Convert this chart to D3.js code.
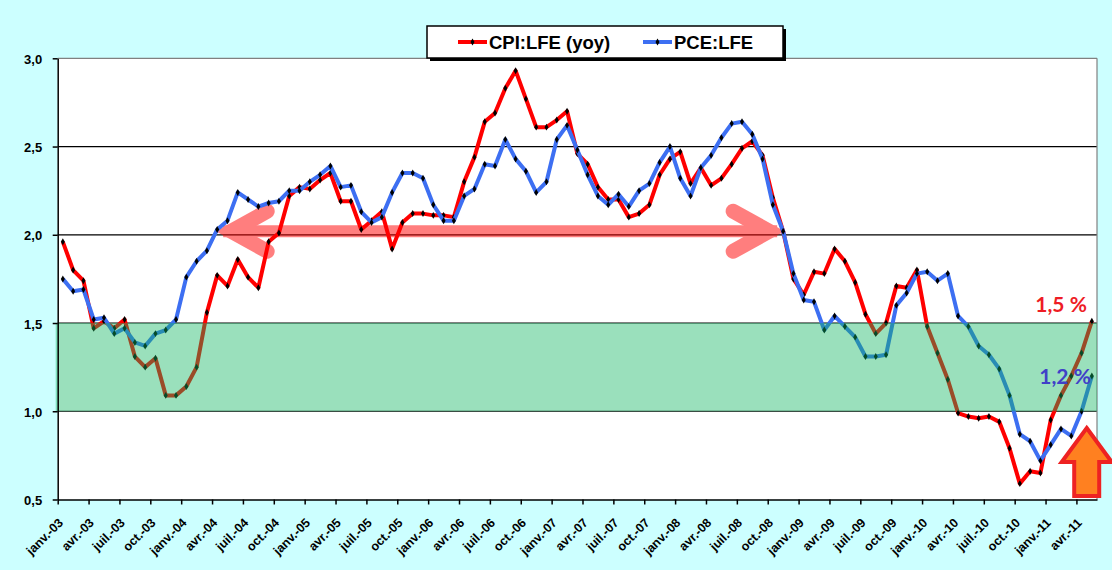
<!DOCTYPE html>
<html>
<head>
<meta charset="utf-8">
<script src="https://cdn.jsdelivr.net/npm/d3@7"></script>
<style>
  body { margin: 0; background: #ccffff; }
  svg { display: block; font-family: "Liberation Sans", Arial, sans-serif; }
</style>
</head>
<body>
<svg id="chart" width="1112" height="570"></svg>
<script>
// monthly, janv.-03 .. mai-11
var categories = d3.utcMonth.range(new Date(Date.UTC(2003, 0, 1)), new Date(Date.UTC(2011, 5, 1)));

var cpiLfe = [1.96,1.80,1.74,1.47,1.51,1.47,1.52,1.31,1.25,1.30,
              1.09,1.09,1.14,1.25,1.56,1.77,1.71,1.86,1.76,1.70,
              1.96,2.01,2.22,2.27,2.26,2.31,2.35,2.19,2.19,2.03,
              2.08,2.13,1.92,2.07,2.12,2.12,2.11,2.11,2.10,2.30,
              2.44,2.64,2.69,2.83,2.93,2.77,2.61,2.61,2.65,2.70,
              2.46,2.40,2.27,2.20,2.20,2.10,2.12,2.17,2.34,2.43,
              2.47,2.29,2.38,2.28,2.32,2.40,2.49,2.53,2.45,2.21,
              2.02,1.75,1.66,1.79,1.78,1.92,1.85,1.73,1.55,1.44,
              1.50,1.71,1.70,1.80,1.48,1.33,1.18,0.99,0.97,0.96,
              0.97,0.94,0.79,0.59,0.66,0.65,0.95,1.09,1.20,1.33,1.51];

var pceLfe = [1.75,1.68,1.69,1.52,1.53,1.44,1.47,1.39,1.37,1.44,
              1.46,1.52,1.76,1.85,1.91,2.03,2.08,2.24,2.20,2.16,
              2.18,2.19,2.25,2.25,2.30,2.34,2.39,2.27,2.28,2.13,
              2.07,2.10,2.24,2.35,2.35,2.32,2.17,2.08,2.08,2.22,
              2.26,2.40,2.39,2.54,2.43,2.36,2.24,2.30,2.54,2.62,
              2.48,2.34,2.22,2.17,2.23,2.16,2.25,2.29,2.41,2.50,
              2.32,2.22,2.38,2.45,2.55,2.63,2.64,2.57,2.43,2.17,
              2.02,1.78,1.63,1.62,1.46,1.54,1.48,1.42,1.31,1.31,
              1.32,1.60,1.67,1.78,1.79,1.74,1.78,1.54,1.48,1.37,
              1.32,1.24,1.09,0.87,0.83,0.72,0.81,0.90,0.86,1.00,1.20];

var seriesNames = ["CPI:LFE (yoy)", "PCE:LFE"];
var yTicks = [0.5, 1.0, 1.5, 2.0, 2.5, 3.0];
var tickLabels = ["janv.-03","avr.-03","juil.-03","oct.-03","janv.-04","avr.-04","juil.-04","oct.-04",
                  "janv.-05","avr.-05","juil.-05","oct.-05","janv.-06","avr.-06","juil.-06","oct.-06",
                  "janv.-07","avr.-07","juil.-07","oct.-07","janv.-08","avr.-08","juil.-08","oct.-08",
                  "janv.-09","avr.-09","juil.-09","oct.-09","janv.-10","avr.-10","juil.-10","oct.-10",
                  "janv.-11","avr.-11"];
var targetBand = [1.0, 1.5];
var plateau = [15, 70, 2.02];       // from month, to month, level
var endLabels = ["1,5 %", "1,2 %"];
var upArrow = [100, 0.52, 0.905];   // month boundary, from, to

var L = 57.7, R = 1097, T = 58.3, B = 499.5;
var n = categories.length;
var svg = d3.select("#chart");

var x = d3.scaleBand().domain(d3.range(n)).range([L, R]);
var xl = d3.scaleLinear().domain([0, n]).range([L, R]);
var cx = i => x(i) + x.bandwidth() / 2;
var y = d3.scaleLinear().domain([0.5, 3.0]).range([B, T]);

var fr = d3.formatLocale({decimal: ",", thousands: " ", grouping: [3], currency: ["", " €"]});
var fmt = fr.format(".1f");

// plot area
svg.append("rect").attr("x", L).attr("y", T).attr("width", R - L).attr("height", B - T)
    .attr("fill", "#fff");
svg.append("g").selectAll("line").data(yTicks.filter(v => v > 0.5 && v < 3))
    .join("line")
    .attr("x1", L).attr("x2", R).attr("y1", d => y(d)).attr("y2", d => y(d))
    .attr("stroke", "#000").attr("stroke-width", 1.2);
svg.append("line").attr("x1", L).attr("x2", R).attr("y1", T).attr("y2", T)
    .attr("stroke", "#808080").attr("stroke-width", 1.2);
svg.append("line").attr("x1", R).attr("x2", R).attr("y1", T).attr("y2", B)
    .attr("stroke", "#808080").attr("stroke-width", 1.2);

// pink double arrow
var ay = y(plateau[2]), ax1 = cx(plateau[0]), ax2 = cx(plateau[1]);
var pink = svg.append("g").attr("opacity", 0.5).attr("fill", "none").attr("stroke", "#ff0000");
pink.append("line").attr("x1", ax1 + 6).attr("x2", ax2 - 6).attr("y1", ay).attr("y2", ay)
    .attr("stroke-width", 12);
[[ax1, 1], [ax2, -1]].forEach(function (h) {
    var t = h[0], s = h[1];
    pink.append("path")
        .attr("d", d3.line()([[t + s * 50, ay - 20], [t + s * 14, ay], [t + s * 50, ay + 20]]))
        .attr("stroke-width", 15).attr("stroke-linecap", "round").attr("stroke-linejoin", "miter")
        .attr("stroke-miterlimit", 10);
});

// series
var series = [
    {name: seriesNames[0], values: cpiLfe, color: "#ff0000"},
    {name: seriesNames[1], values: pceLfe, color: "#3d6ff2"}
];
var lineMaker = d3.line().x((d, i) => cx(i)).y(d => y(d));
var diamond = d3.symbol().type(d3.symbolDiamond).size(14);

series.forEach(function (s) {
    var g = svg.append("g");
    g.append("path").attr("d", lineMaker(s.values))
        .attr("fill", "none").attr("stroke", s.color).attr("stroke-width", 4)
        .attr("stroke-linejoin", "round");
    g.selectAll("path.m").data(s.values).join("path").attr("class", "m")
        .attr("d", diamond)
        .attr("transform", (d, i) => "translate(" + cx(i) + "," + y(d) + ")")
        .attr("fill", "#000");
});

// target band
svg.append("rect")
    .attr("x", L - 2).attr("y", y(targetBand[1]))
    .attr("width", R - L + 2).attr("height", y(targetBand[0]) - y(targetBand[1]))
    .attr("fill", "rgb(14,180,96)").attr("opacity", 0.42);

// axes
var yAxis = svg.append("g").attr("transform", "translate(" + L + ",0)")
    .call(d3.axisLeft(y).tickValues(yTicks).tickFormat(fmt).tickSize(5).tickSizeOuter(0));
yAxis.select(".domain").attr("stroke-width", 1.5);
yAxis.selectAll(".tick line").attr("stroke-width", 1.5);
yAxis.selectAll("text").attr("font-size", 13).attr("font-weight", "bold")
    .attr("font-family", "Liberation Sans, Arial, sans-serif").attr("fill", "#000")
    .attr("x", -15.5).attr("dy", "0.4em");

var xAxis = svg.append("g").attr("transform", "translate(0," + B + ")")
    .call(d3.axisBottom(xl).tickValues(d3.range(0, n, 3)).tickFormat("").tickSize(5).tickSizeOuter(0));
xAxis.select(".domain").attr("stroke-width", 1.5);
xAxis.selectAll(".tick line").attr("stroke-width", 1.5);

svg.append("g").selectAll("text").data(tickLabels).join("text")
    .attr("transform", (d, k) => "translate(" + (cx(k * 3) + 1) + "," + (B + 24) + ") rotate(-45)")
    .attr("text-anchor", "end")
    .attr("font-size", 12.5).attr("font-weight", "bold").attr("fill", "#000")
    .text(d => d);

// end labels
svg.append("text").attr("x", cx(n - 1) - 5).attr("y", y(cpiLfe[n - 1]) - 9)
    .attr("text-anchor", "end").attr("font-family", "Lato, sans-serif").attr("font-weight", "bold")
    .attr("font-size", 21).attr("fill", "#ee1c25").text(endLabels[0]);
svg.append("text").attr("x", cx(n - 1) - 1).attr("y", y(pceLfe[n - 1]) + 8)
    .attr("text-anchor", "end").attr("font-family", "Lato, sans-serif").attr("font-weight", "bold")
    .attr("font-size", 21).attr("fill", "#4040c8").text(endLabels[1]);

// orange up arrow
var ux = xl(upArrow[0]), uTop = y(upArrow[2]), uBot = y(upArrow[1]);
svg.append("path")
    .attr("d", d3.line()([[ux, uTop], [ux + 25, uTop + 34], [ux + 12.5, uTop + 34], [ux + 12.5, uBot],
        [ux - 12.5, uBot], [ux - 12.5, uTop + 34], [ux - 25, uTop + 34]]) + "Z")
    .attr("fill", "#ff8020").attr("stroke", "#ee2222").attr("stroke-width", 4)
    .attr("stroke-linejoin", "miter");

// legend
var lg = svg.append("g").attr("transform", "translate(427,26)");
lg.append("rect").attr("x", 3).attr("y", 3).attr("width", 356).attr("height", 32).attr("fill", "#000");
lg.append("rect").attr("width", 356).attr("height", 32).attr("fill", "#fff")
    .attr("stroke", "#000").attr("stroke-width", 1.5);
var legendX = [31, 216];
series.forEach(function (s, k) {
    var it = lg.append("g").attr("transform", "translate(" + legendX[k] + ",16)");
    it.append("line").attr("x1", 0).attr("x2", 29).attr("stroke", s.color).attr("stroke-width", 4);
    it.append("path").attr("d", diamond).attr("transform", "translate(14.5,0)").attr("fill", "#000");
    it.append("text").attr("x", 31).attr("y", 6.5).attr("font-size", 18.5).attr("font-weight", "bold")
        .attr("fill", "#000").text(s.name);
});
</script>
</body>
</html>
